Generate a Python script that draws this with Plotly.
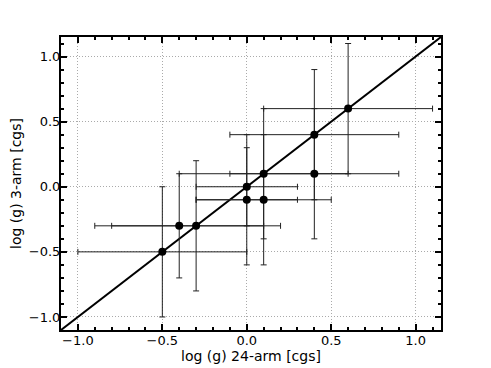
import plotly.graph_objects as go

# log g measured with the 24-arm vs the 3-arm setup
logg_24 = [-0.5, -0.4, -0.3, 0.0, 0.0, 0.1, 0.1, 0.4, 0.4, 0.6]
logg_3 = [-0.5, -0.3, -0.3, 0.0, -0.1, 0.1, -0.1, 0.4, 0.1, 0.6]
err_24 = [0.5, 0.5, 0.5, 0.3, 0.3, 0.5, 0.4, 0.5, 0.5, 0.5]
err_3 = [0.5, 0.4, 0.5, 0.3, 0.5, 0.5, 0.5, 0.5, 0.5, 0.5]

axis_range = [-1.1, 1.15]
tick_vals = [-1.0, -0.5, 0.0, 0.5, 1.0]

fig = go.Figure()
fig.add_trace(go.Scatter(x=axis_range, y=axis_range, mode="lines",
                         line=dict(color="black", width=2), showlegend=False))
fig.add_trace(go.Scatter(
    x=logg_24, y=logg_3, mode="markers",
    marker=dict(color="black", size=8),
    error_x=dict(type="data", array=err_24, color="#222", thickness=1, width=3),
    error_y=dict(type="data", array=err_3, color="#222", thickness=1, width=3),
    showlegend=False,
))

axis_style = dict(
    range=axis_range, tickvals=tick_vals, tickformat=".1f",
    ticks="inside", ticklen=6, tickwidth=1.5, tickcolor="black",
    minor=dict(ticks="inside", dtick=0.1, ticklen=3, tickcolor="black", showgrid=False),
    showline=True, linecolor="black", linewidth=2, mirror="allticks",
    showgrid=True, gridcolor="#aaa", griddash="1px,2px", gridwidth=1,
    zeroline=False, tickfont=dict(size=13, color="black"), automargin=False,
)
fig.update_xaxes(**axis_style, ticklabelstandoff=-3,
                 title=dict(text="log (g) 24-arm [cgs]", font=dict(size=14), standoff=4))
fig.update_yaxes(**axis_style, ticklabelstandoff=-4,
                 title=dict(text="log (g) 3-arm [cgs]", font=dict(size=14), standoff=6))

# page body adds an 8px margin, so the figure is a bit smaller than the window
fig.update_layout(
    width=483, height=360,
    margin=dict(l=53, r=50, t=29, b=38),
    plot_bgcolor="white", paper_bgcolor="white",
    font=dict(family="DejaVu Sans", color="black"),
)
fig.write_html("out.html")
